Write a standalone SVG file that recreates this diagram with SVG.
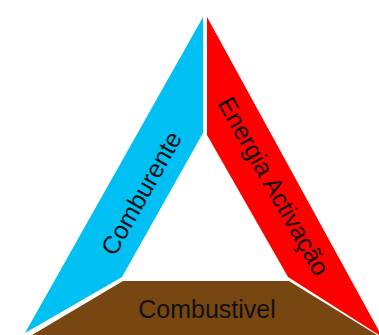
<svg xmlns="http://www.w3.org/2000/svg" width="379" height="335" viewBox="0 0 379 335">
<style>
.lbl{font-family:"Liberation Sans",Arial,sans-serif;font-size:25px;fill:#111;text-anchor:middle}
</style>
<rect width="379" height="335" fill="#fff"/>
<g id="comburente">
<polygon points="203,17 203,133 122,277 25,333" fill="#00BFF3"/>
<text class="lbl" transform="translate(141,193) rotate(-60.5)" y="9">Comburente</text>
</g>
<g id="energia">
<polygon points="207,17 379,331 379,335 288,277 207,135" fill="#FF0000"/>
<text class="lbl" transform="translate(274,186) rotate(60.5)" y="9">Energia Activação</text>
</g>
<g id="combustivel">
<polygon points="123,281 289,281 377,335 32,335" fill="#784610"/>
<text class="lbl" x="207" y="318">Combustivel</text>
</g>
<g id="connectors"></g>
</svg>
